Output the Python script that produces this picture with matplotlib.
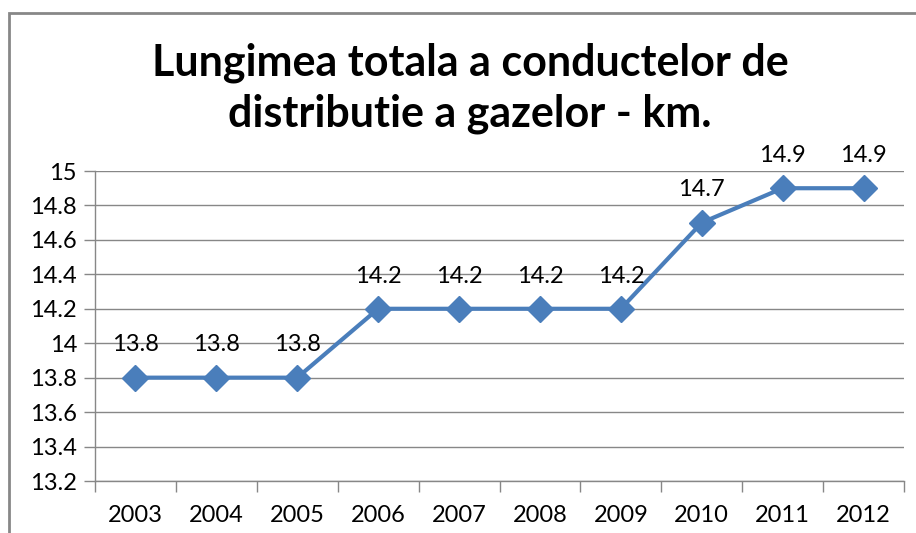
import matplotlib.pyplot as plt
import numpy as np
from matplotlib.patches import Rectangle

# Data
years = ['2003', '2004', '2005', '2006', '2007', '2008', '2009', '2010', '2011', '2012']
lengths = [13.8, 13.8, 13.8, 14.2, 14.2, 14.2, 14.2, 14.7, 14.9, 14.9]
y_ticks = [13.2, 13.4, 13.6, 13.8, 14, 14.2, 14.4, 14.6, 14.8, 15]

plt.rcParams['font.family'] = ['Lato', 'DejaVu Sans']

fig = plt.figure(figsize=(9.16, 5.33), dpi=100)
ax = fig.add_axes([95 / 916, 1 - 481 / 533, 809 / 916, 310 / 533])

# Outer chart border (cut off at right and bottom)
fig.patches.append(Rectangle((9 / 916, -0.05), 1.0, 1 - 13 / 533 + 0.05,
                             transform=fig.transFigure, fill=False,
                             edgecolor='#878787', linewidth=2))

x = np.arange(len(years))
ax.plot(x, lengths, color='#4A7EBB', linewidth=3, marker='D',
        markersize=13, markerfacecolor='#4A7EBB', markeredgecolor='#4A7EBB')

for xi, v in zip(x, lengths):
    ax.annotate(f'{v:g}', (xi, v), xytext=(0, 16), textcoords='offset points',
                ha='center', va='bottom', fontsize=17, color='#000000')

ax.set_ylim(13.2, 15)
ax.set_yticks(y_ticks)
ax.set_yticklabels([f'{t:g}' for t in y_ticks], fontsize=17)
ax.grid(axis='y', color='#878787', linewidth=1)
ax.set_axisbelow(True)

ax.set_xlim(-0.5, len(years) - 0.5)
ax.set_xticks(x)
ax.set_xticklabels(years, fontsize=17)
ax.set_xticks(np.arange(-0.5, len(years)), minor=True)
ax.tick_params(axis='x', which='major', length=0, pad=17)
ax.tick_params(axis='x', which='minor', length=8, color='#878787', width=1)
ax.tick_params(axis='y', length=8, color='#878787', width=1, pad=5)

for side in ['top', 'right']:
    ax.spines[side].set_visible(False)
for side in ['left', 'bottom']:
    ax.spines[side].set_color('#878787')
    ax.spines[side].set_linewidth(1)

fig.text(0.513, 1 - 88 / 533, 'Lungimea totala a conductelor de\ndistributie a gazelor - km.',
         ha='center', va='center', fontsize=31, fontweight='bold', linespacing=1.32)

fig.savefig('out.png', dpi=100)
